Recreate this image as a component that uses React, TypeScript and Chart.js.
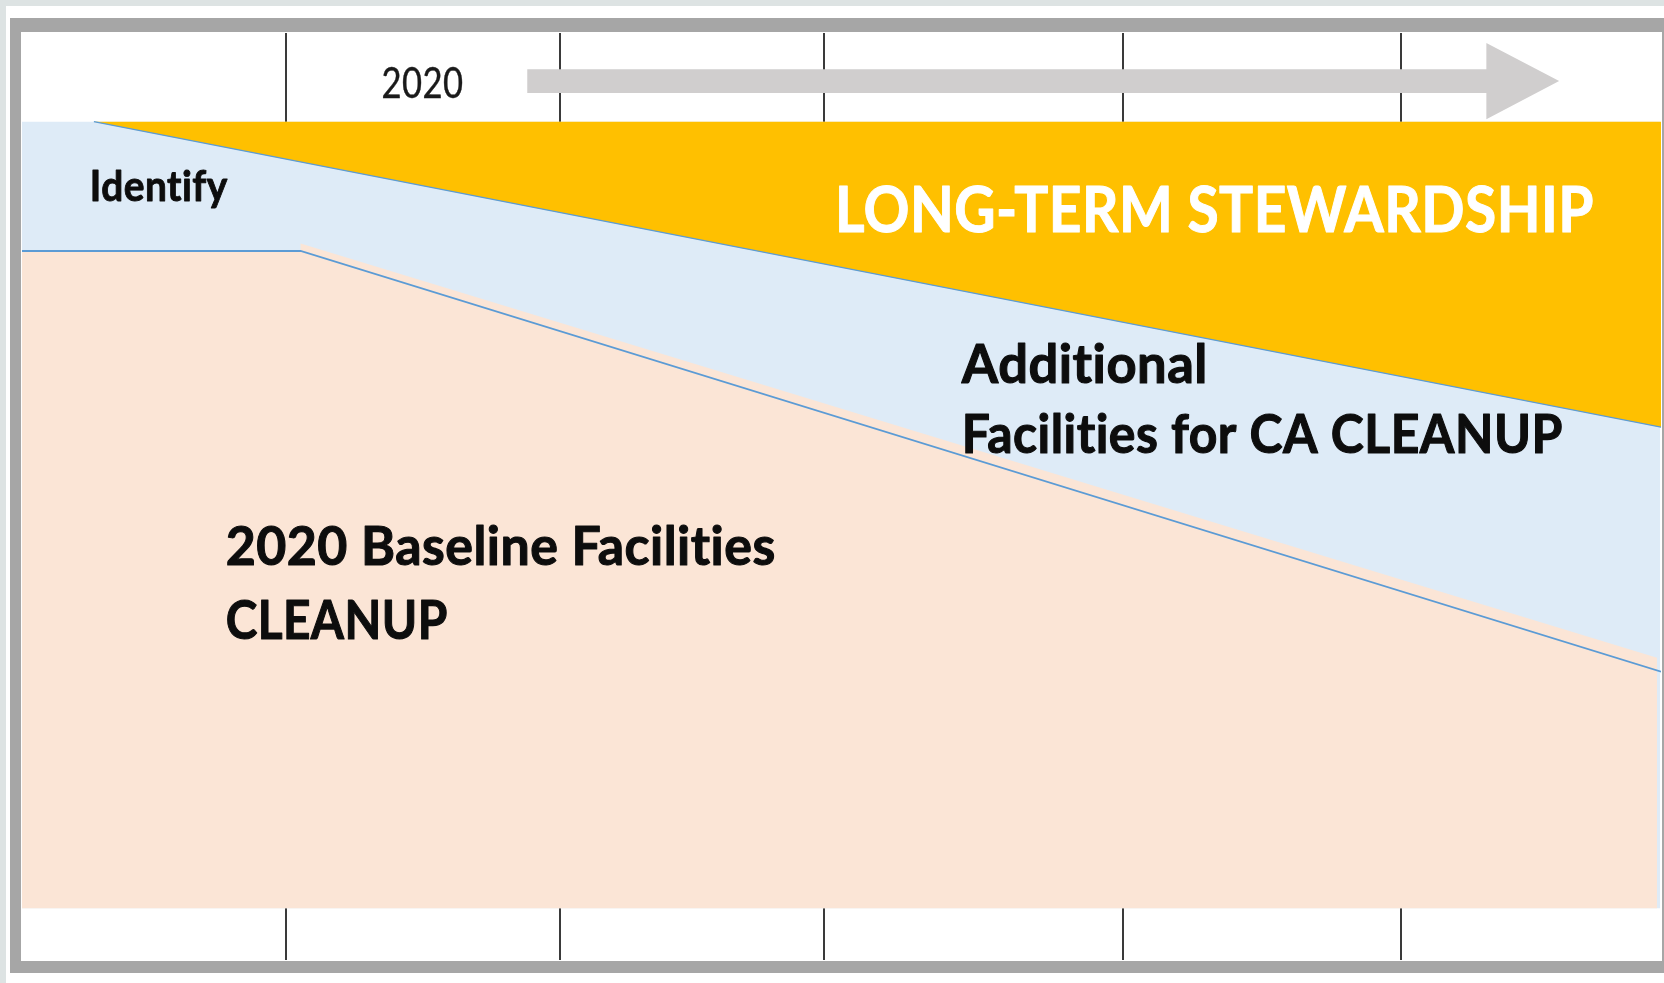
import React, { useEffect, useRef } from "react";
import { Chart, registerables } from "chart.js";

Chart.register(...registerables);

// ---- Data (x: timeline position 0–100, y: share of facilities 0–100) ----
const X_TICKS = [16.09, 32.85, 48.93, 67.15, 84.16];

const STEWARDSHIP_X = [4.39, 100];
const STEWARDSHIP_Y = [90.42, 57.48];
const STEWARDSHIP_TOP = 90.42;

const ADDITIONAL_X = [0, 99.95];
const ADDITIONAL_Y = [90.42, 90.42];

const BASELINE_X = [0, 17.0, 17.0, 99.75];
const BASELINE_Y = [76.48, 76.48, 77.29, 32.62];
const BASELINE_BOTTOM = 5.6;

const BOUNDARY_X = [0, 17.0, 100];
const BOUNDARY_Y = [76.48, 76.48, 31.11];

// timeline arrow (data units)
const ARROW_X = [30.83, 89.34, 93.78]; // shaft start, head base, tip
const ARROW_Y = 94.8;
const ARROW_SHAFT_HALF = 1.29;
const ARROW_HEAD_HALF = 4.12;

// text annotations
const LABEL_TEXTS = [
  "Identify",
  "2020",
  "LONG-TERM STEWARDSHIP",
  "Additional",
  "Facilities for CA CLEANUP",
  "2020 Baseline Facilities",
  "CLEANUP",
];
const LABEL_X = [4.14, 21.94, 49.6, 57.34, 57.34, 12.43, 12.43];
const LABEL_Y = [81.92, 93.0, 78.58, 62.22, 54.68, 42.63, 34.66];
const LABEL_STYLE = [
  { size: 42, weight: "bold", color: "#0d0d0d", width: 138, stroke: 0.9 },
  { size: 42, weight: "normal", color: "#1a1a1a", width: 82, stroke: 0.4 },
  { size: 63, weight: "bold", color: "#ffffff", width: 759, stroke: 1.0 },
  { size: 53, weight: "bold", color: "#0d0d0d", width: 246, stroke: 1.1 },
  { size: 53, weight: "bold", color: "#0d0d0d", width: 601, stroke: 1.1 },
  { size: 53, weight: "bold", color: "#0d0d0d", width: 550, stroke: 1.1 },
  { size: 53, weight: "bold", color: "#0d0d0d", width: 222, stroke: 1.1 },
];

const pts = (xs: number[], ys: number[]) => xs.map((x, i) => ({ x, y: ys[i] }));

const overlayPlugin = {
  id: "overlay",
  afterDatasetsDraw(chart: any) {
    const { ctx, scales } = chart;
    const sx = scales.x;
    const sy = scales.y;
    // arrow
    ctx.save();
    ctx.fillStyle = "#d0cece";
    ctx.beginPath();
    const x0 = sx.getPixelForValue(ARROW_X[0]);
    const xh = sx.getPixelForValue(ARROW_X[1]);
    const xt = sx.getPixelForValue(ARROW_X[2]);
    const yc = sy.getPixelForValue(ARROW_Y);
    const st = sy.getPixelForValue(ARROW_Y + ARROW_SHAFT_HALF);
    const sb = sy.getPixelForValue(ARROW_Y - ARROW_SHAFT_HALF);
    const ht = sy.getPixelForValue(ARROW_Y + ARROW_HEAD_HALF);
    const hb = sy.getPixelForValue(ARROW_Y - ARROW_HEAD_HALF);
    ctx.moveTo(x0, st);
    ctx.lineTo(xh, st);
    ctx.lineTo(xh, ht);
    ctx.lineTo(xt, yc);
    ctx.lineTo(xh, hb);
    ctx.lineTo(xh, sb);
    ctx.lineTo(x0, sb);
    ctx.closePath();
    ctx.fill();
    ctx.restore();

    // labels
    LABEL_TEXTS.forEach((text, i) => {
      const s = LABEL_STYLE[i];
      ctx.save();
      ctx.font = `${s.weight} ${s.size}px Lato, "Open Sans", sans-serif`;
      try {
        (ctx as any).letterSpacing = "0.5px"; // disables optional ligatures
      } catch (e) {}
      ctx.fillStyle = s.color;
      ctx.strokeStyle = s.color;
      ctx.lineWidth = s.stroke;
      ctx.lineJoin = "round";
      ctx.textBaseline = "alphabetic";
      ctx.textAlign = "left";
      const w = ctx.measureText(text).width;
      const k = w > 0 ? s.width / w : 1;
      ctx.translate(sx.getPixelForValue(LABEL_X[i]), sy.getPixelForValue(LABEL_Y[i]));
      ctx.scale(k, 1);
      ctx.fillText(text, 0, 0);
      if (s.stroke > 0) ctx.strokeText(text, 0, 0);
      ctx.restore();
    });
  },
};

export default function App() {
  const canvasRef = useRef<HTMLCanvasElement | null>(null);

  useEffect(() => {
    if (!canvasRef.current) return;
    const chart = new Chart(canvasRef.current, {
      type: "line",
      data: {
        datasets: [
          {
            label: "Long-term stewardship",
            data: pts(STEWARDSHIP_X, STEWARDSHIP_Y),
            backgroundColor: "#ffc000",
            borderColor: "#5b9bd5",
            borderWidth: 1.3,
            pointRadius: 0,
            fill: { value: STEWARDSHIP_TOP },
            order: 1,
          },
          {
            label: "Baseline boundary",
            data: pts(BOUNDARY_X, BOUNDARY_Y),
            borderColor: "#5b9bd5",
            borderWidth: 1.8,
            pointRadius: 0,
            fill: false,
            order: 2,
          },
          {
            label: "2020 Baseline Facilities CLEANUP",
            data: pts(BASELINE_X, BASELINE_Y),
            backgroundColor: "#fbe5d6",
            borderWidth: 0,
            pointRadius: 0,
            fill: { value: BASELINE_BOTTOM },
            order: 3,
          },
          {
            label: "Additional Facilities for CA CLEANUP",
            data: pts(ADDITIONAL_X, ADDITIONAL_Y),
            backgroundColor: "#deebf7",
            borderWidth: 0,
            pointRadius: 0,
            fill: { value: BASELINE_BOTTOM },
            order: 4,
          },
        ],
      },
      options: {
        animation: false,
        responsive: true,
        maintainAspectRatio: false,
        layout: { padding: 0 },
        plugins: {
          legend: { display: false },
          tooltip: { enabled: false },
        },
        elements: { line: { tension: 0 } },
        scales: {
          x: {
            type: "linear",
            min: 0,
            max: 100,
            position: "bottom",
            afterBuildTicks: (scale: any) => {
              scale.ticks = X_TICKS.map((v) => ({ value: v }));
            },
            ticks: { display: false },
            grid: { display: true, drawTicks: false, color: "#3a3a3a", lineWidth: 2 },
            border: { display: false },
          },
          y: {
            type: "linear",
            min: 0,
            max: 100,
            display: false,
          },
        },
      },
      plugins: [overlayPlugin],
    });
    const fonts = (document as any).fonts;
    if (fonts && fonts.load) {
      Promise.all([
        fonts.load('bold 40px Lato'),
        fonts.load('40px Lato'),
      ]).then(() => chart.update()).catch(() => {});
    }
    return () => chart.destroy();
  }, []);

  return (
    <div
      style={{
        position: "fixed",
        left: 0,
        top: 0,
        width: 1664,
        height: 983,
        overflow: "hidden",
        background: "#ffffff",
      }}
    >
      <div style={{ position: "absolute", left: 0, top: 0, width: 1664, height: 6, background: "#dde3e3" }} />
      <div style={{ position: "absolute", left: 0, top: 0, width: 6, height: 983, background: "#dde3e3" }} />
      <div
        style={{
          position: "absolute",
          left: 10,
          top: 18,
          width: 1663,
          height: 955,
          boxSizing: "border-box",
          borderStyle: "solid",
          borderColor: "#a6a6a6",
          borderWidth: "14px 11px 12px 11px",
          background: "#ffffff",
        }}
      >
        <div style={{ position: "relative", width: 1641, height: 929 }}>
          <canvas ref={canvasRef} />
        </div>
      </div>
    </div>
  );
}
